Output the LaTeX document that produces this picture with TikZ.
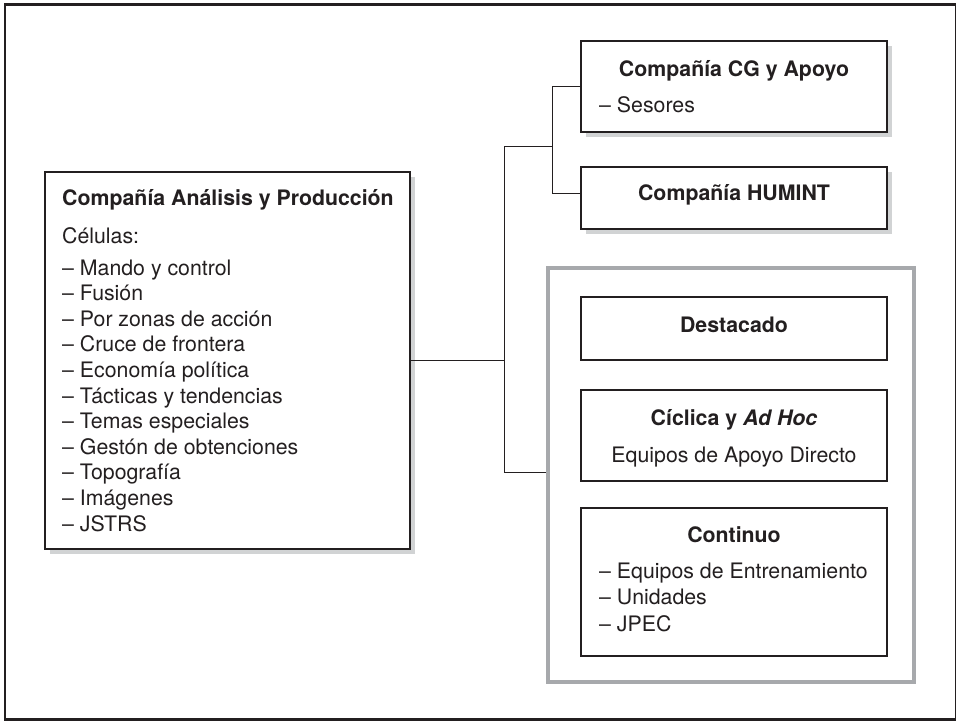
\documentclass[tikz,border=0pt]{standalone}
\usepackage{fontspec}
\setmainfont{TeX Gyre Heros}
\usetikzlibrary{shadows}
\definecolor{ink}{HTML}{231F20}
\definecolor{framegray}{HTML}{A7A9AC}
\definecolor{shadowgray}{HTML}{D1D3D4}
\begin{document}
\begin{tikzpicture}[x=1pt,y=-1pt,
  box/.style={draw=ink, line width=1.2pt, fill=white, inner sep=0pt, minimum width=306pt},
  shbox/.style={box, drop shadow={shadow xshift=5pt, shadow yshift=-5pt, opacity=1, fill=shadowgray}},
  grayframe/.style={draw=framegray, line width=4.5pt, inner sep=0pt},
  txt/.style={inner sep=0pt, text=ink, font=\fontsize{21.3}{25.5}\selectfont},
  btxt/.style={txt, font=\fontsize{21.3}{25.5}\selectfont\bfseries},
  link/.style={draw=ink, line width=1pt}]
\useasboundingbox (0,0) rectangle (957,722);
% outer frame
\draw[ink, line width=2.4pt] (955.7,4.5) -- (4.7,4.5) -- (4.7,719.3) -- (955.7,719.3);
\draw[ink, line width=1.3pt] (955.7,4.5) -- (955.7,719.3);

% boxes
\node[shbox, minimum width=365pt, minimum height=377pt] (LB) at (227.5,360.5) {};
\node[shbox, minimum height=91pt] (CG) at (734,86.5) {};
\node[shbox, minimum height=62pt] (HU) at (734,198) {};
\node[grayframe, minimum width=366pt, minimum height=414pt] (FR) at (731,475) {};
\node[box, minimum height=63pt] (DE) at (734,328.5) {};
\node[box, minimum height=91pt] (CY) at (734,435.5) {};
\node[box, minimum height=148pt] (CO) at (734,582) {};

% connectors
\coordinate (J1) at (504,360);
\coordinate (J2) at (504,147);
\coordinate (J3) at (552,147);
\coordinate (J4) at (504,472);
\coordinate (J5) at (552,86.5);
\coordinate (J6) at (552,193);
\draw[link] (LB.east |- J1) -- (J1);
\draw[link] (J2) -- (J4) -- (FR.west |- J4);
\draw[link] (J2) -- (J3);
\draw[link] (CG.west |- J5) -- (J5) -- (J6) -- (HU.west |- J6);

% left box text
\node[btxt, anchor=base west] (lbt) at (62,205) {Compañía Análisis y Producción};
\node[txt, anchor=base west] (lbc) at (62,243) {Células:};
\foreach \t [count=\i from 0] in {Mando y control, Fusión, Por zonas de acción, Cruce de frontera, Economía política, Tácticas y tendencias, Temas especiales, Gestón de obtenciones, Topografía, Imágenes, JSTRS}
  \node[txt, anchor=base west] (lbi\i) at (62,275+25.6*\i) {– \t};

% right texts
\node[btxt, anchor=base] (cgt) at (734,76.5) {Compañía CG y Apoyo};
\node[txt, anchor=base west] (cgs) at (599,113) {– Sesores};
\node[btxt, anchor=base] (hut) at (734,200.5) {Compañía HUMINT};
\node[btxt, anchor=base] (det) at (734,332.5) {Destacado};
\node[btxt, anchor=base] (cyt) at (734,425.5) {Cíclica y \itshape Ad Hoc};
\node[txt, anchor=base] (cys) at (734,462) {Equipos de Apoyo Directo};
\node[btxt, anchor=base] (cot) at (734,542.5) {Continuo};
\node[txt, anchor=base west] (co1) at (599,578) {– Equipos de Entrenamiento};
\node[txt, anchor=base west] (co2) at (599,604.5) {– Unidades};
\node[txt, anchor=base west] (co3) at (599,631) {– JPEC};
\end{tikzpicture}
\end{document}
